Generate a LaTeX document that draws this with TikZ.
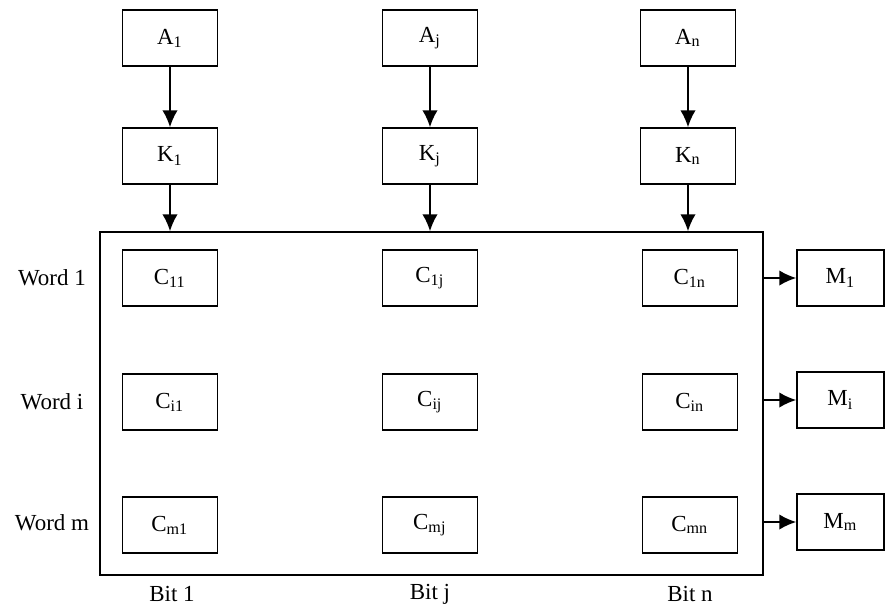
\documentclass[tikz,border=0pt]{standalone}
\usepackage{fontspec}
\setmainfont{Liberation Serif}
\usepackage{tikz}
\usetikzlibrary{arrows.meta}

\tikzset{
  cell/.style={draw, semithick, minimum width=95*0.013cm, minimum height=56*0.013cm, inner sep=0pt},
  link/.style={semithick, -{Latex[length=2.2mm,width=2mm]}}
}

\begin{document}
\begin{tikzpicture}[x=0.013cm, y=-0.013cm, font=\fontsize{8.5}{10}\selectfont]
  \useasboundingbox (0,0) rectangle (886,605);
     % Argument et cle
  \node[cell] (A1) at (170,38) {A\textsubscript{1}};
  \node[cell] (Aj) at (430,38) {A\textsubscript{j}};
  \node[cell] (An) at (688,38) {A\textsubscript{n}};
  \node[cell] (K1) at (170,156) {K\textsubscript{1}};
  \node[cell] (Kj) at (430,156) {K\textsubscript{j}};
  \node[cell] (Kn) at (688,156) {K\textsubscript{n}};

     % Memoire
  \node[draw, semithick, minimum width=663*0.013cm, minimum height=343*0.013cm, inner sep=0pt] (mem) at (431.5,403.5) {};
  \node[cell] (C11) at (170,278) {C\textsubscript{11}};
  \node[cell] (C1j) at (430,278) {C\textsubscript{1j}};
  \node[cell] (C1n) at (690,278) {C\textsubscript{1n}};
  \node[cell] (Ci1) at (170,402) {C\textsubscript{i1}};
  \node[cell] (Cij) at (430,402) {C\textsubscript{ij}};
  \node[cell] (Cin) at (690,402) {C\textsubscript{in}};
  \node[cell] (Cm1) at (170,525) {C\textsubscript{m1}};
  \node[cell] (Cmj) at (430,525) {C\textsubscript{mj}};
  \node[cell] (Cmn) at (690,525) {C\textsubscript{mn}};

     % Sorties
  \node[cell, minimum width=87*0.013cm] (M1) at (840.5,278) {M\textsubscript{1}};
  \node[cell, minimum width=87*0.013cm] (Mi) at (840.5,400) {M\textsubscript{i}};
  \node[cell, minimum width=87*0.013cm] (Mm) at (840.5,522) {M\textsubscript{m}};

     % Etiquettes
  \node (w1) at (52,278) {Word 1};
  \node (wi) at (52,402) {Word i};
  \node (wm) at (52,523) {Word m};
  \node (b1) at (172,594) {Bit 1};
  \node (bj) at (430,594) {Bit j};
  \node (bn) at (690,594) {Bit n};

     % Liaisons
  \draw[link] (A1) -- (K1);
  \draw[link] (Aj) -- (Kj);
  \draw[link] (An) -- (Kn);
  \draw[link] (K1) -- (K1 |- mem.north);
  \draw[link] (Kj) -- (Kj |- mem.north);
  \draw[link] (Kn) -- (Kn |- mem.north);
  \draw[link] (mem.east |- M1) -- (M1);
  \draw[link] (mem.east |- Mi) -- (Mi);
  \draw[link] (mem.east |- Mm) -- (Mm);
\end{tikzpicture}
\end{document}
